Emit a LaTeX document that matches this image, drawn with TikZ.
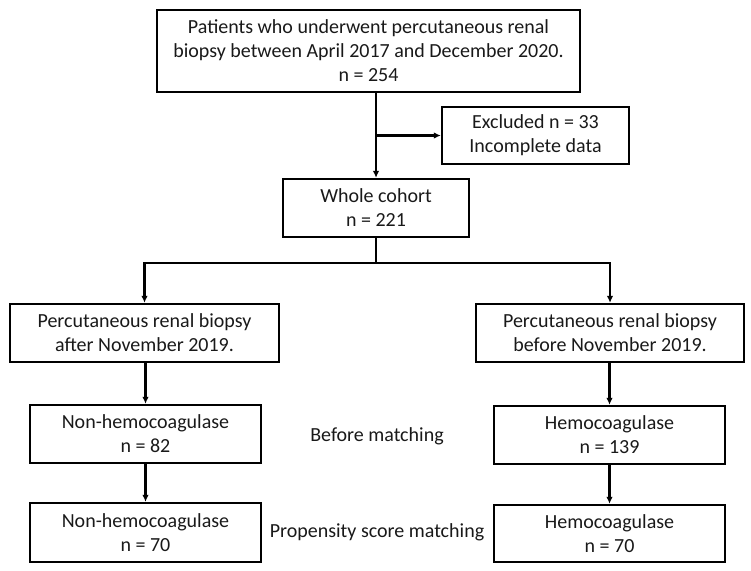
\documentclass[tikz,border=0pt]{standalone}
\usepackage{fontspec}
\setmainfont{Carlito}
\usetikzlibrary{arrows.meta}
\begin{document}
\begin{tikzpicture}[x=1pt,y=-1pt,
  box/.style={draw=black,line width=2.3pt,align=center,inner sep=0pt,
    font=\fontsize{20}{24}\selectfont,text=black!90},
  lbl/.style={align=center,inner sep=0pt,font=\fontsize{20}{24}\selectfont,text=black!90},
  conn/.style={line width=2.1pt,draw=black},
  arr/.style={conn,-{Latex[length=7pt,width=6.5pt]}}]
\useasboundingbox (0,0) rectangle (751,570);
\node[box,minimum width=423pt,minimum height=82pt] (top) at (368.5,51)
  {Patients who underwent percutaneous renal\\biopsy between April 2017 and December 2020.\\n = 254};
\node[box,minimum width=187pt,minimum height=57pt] (excl) at (535.5,135.5)
  {Excluded n = 33\\Incomplete data};
\node[box,minimum width=186pt,minimum height=58pt] (whole) at (376,208)
  {Whole cohort\\n = 221};
\node[box,minimum width=269pt,minimum height=58pt] (pl) at (144.5,333)
  {Percutaneous renal biopsy\\after November 2019.};
\node[box,minimum width=268pt,minimum height=58pt] (pr) at (610,333)
  {Percutaneous renal biopsy\\before November 2019.};
\node[box,minimum width=231pt,minimum height=58pt] (nl1) at (145.5,434)
  {Non-hemocoagulase\\n = 82};
\node[box,minimum width=231pt,minimum height=58pt] (nr1) at (609.5,435)
  {Hemocoagulase\\n = 139};
\node[box,minimum width=231pt,minimum height=59pt] (nl2) at (145.5,532.5)
  {Non-hemocoagulase\\n = 70};
\node[box,minimum width=231pt,minimum height=57pt] (nr2) at (609.5,533.5)
  {Hemocoagulase\\n = 70};
\node[lbl] (bm) at (377,436) {Before matching};
\node[lbl] (psm) at (377,532) {Propensity score matching};
\coordinate (ex) at (whole.north |- excl.west);
\coordinate (br) at (376,263);
\draw[arr] (top.south -| whole.north) -- (whole.north);
\draw[arr] (ex) -- (excl.west);
\draw[conn] (whole.south) -- (br);
\draw[arr] (br) -| (pl.north);
\draw[arr] (br) -| (pr.north);
\draw[arr] (pl.south -| nl1.north) -- (nl1.north);
\draw[arr] (pr.south -| nr1.north) -- (nr1.north);
\draw[arr] (nl1.south) -- (nl2.north);
\draw[arr] (nr1.south) -- (nr2.north);
\end{tikzpicture}
\end{document}
